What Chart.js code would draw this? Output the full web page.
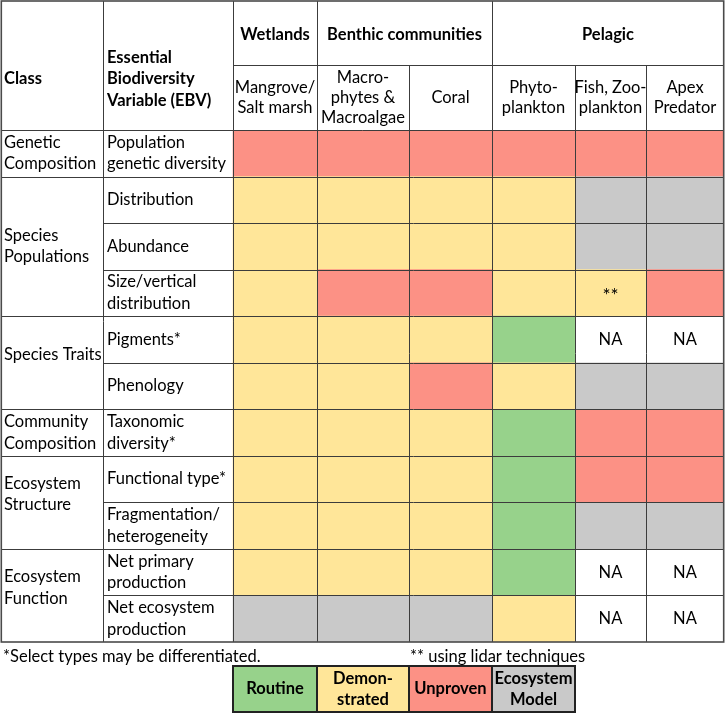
<!DOCTYPE html>
<html>
<head>
<meta charset="utf-8">
<script src="https://cdn.jsdelivr.net/npm/chart.js@4.4.1/dist/chart.umd.min.js"></script>
<style>
  html, body { margin: 0; padding: 0; background: #fff; }
  #wrap { width: 726px; height: 714px; }
</style>
</head>
<body>
<div id="wrap"><canvas id="ebvChart"></canvas></div>
<script>
// ---- table content ----
const ebvLabels = [
  'Population genetic diversity', 'Distribution', 'Abundance', 'Size/vertical distribution',
  'Pigments*', 'Phenology', 'Taxonomic diversity*', 'Functional type*',
  'Fragmentation/ heterogeneity', 'Net primary production', 'Net ecosystem production'
];
// same labels, wrapped the way the table shows them
const ebvLines = [
  ['Population', 'genetic diversity'], ['Distribution'], ['Abundance'], ['Size/vertical', 'distribution'],
  ['Pigments*'], ['Phenology'], ['Taxonomic', 'diversity*'], ['Functional type*'],
  ['Fragmentation/', 'heterogeneity'], ['Net primary', 'production'], ['Net ecosystem', 'production']
];
const classNames = [
  ['Genetic', 'Composition'], ['Species', 'Populations'], ['Species Traits'],
  ['Community', 'Composition'], ['Ecosystem', 'Structure'], ['Ecosystem', 'Function']
];
const classRows = [[0, 0], [1, 3], [4, 5], [6, 6], [7, 8], [9, 10]];

const habitatGroups = ['Wetlands', 'Benthic communities', 'Pelagic'];
const groupColumns = [[0, 0], [1, 2], [3, 5]];
const habitats = [
  ['Mangrove/', 'Salt marsh'], ['Macro-', 'phytes &', 'Macroalgae'], ['Coral'],
  ['Phyto-', 'plankton'], ['Fish, Zoo-', 'plankton'], ['Apex', 'Predator']
];

// readiness per habitat, one code per EBV row
// R = routine, D = demonstrated, U = unproven, M = ecosystem model, NA = not applicable
const mangrove    = ['U', 'D', 'D', 'D', 'D', 'D', 'D', 'D', 'D', 'D', 'M'];
const macrophytes = ['U', 'D', 'D', 'U', 'D', 'D', 'D', 'D', 'D', 'D', 'M'];
const coral       = ['U', 'D', 'D', 'U', 'D', 'U', 'D', 'D', 'D', 'D', 'M'];
const phyto       = ['U', 'D', 'D', 'D', 'R', 'D', 'R', 'R', 'R', 'R', 'D'];
const fishZoo     = ['U', 'M', 'M', 'D', 'NA', 'M', 'U', 'U', 'M', 'NA', 'NA'];
const apex        = ['U', 'M', 'M', 'U', 'NA', 'M', 'U', 'U', 'M', 'NA', 'NA'];
const fishZooNotes = ['', '', '', '**', '', '', '', '', '', '', ''];

const legendCodes = ['R', 'D', 'U', 'M'];
const legendLabels = [['Routine'], ['Demon-', 'strated'], ['Unproven'], ['Ecosystem', 'Model']];
const footnotes = ['*Select types may be differentiated.', '** using lidar techniques'];

// ---- layout / style ----
const colEdges = [0, 102, 232, 316, 408, 491, 574, 645, 723]; // x axis units
const statusColors = { R: '#97d28b', D: '#ffe699', U: '#fc9185', M: '#c9c9c9', NA: 'rgba(255,255,255,0)' };
const FONT = 'Lato, "Open Sans", sans-serif';
const SIZE = '16.5px ';
const gridColor = '#3c3c3c';

const columns = [mangrove, macrophytes, coral, phyto, fishZoo, apex];
const notes = [[], [], [], [], fishZooNotes, []];

const datasets = columns.map((codes, c) => ({
  label: habitats[c].join(' '),
  data: codes.map(() => [colEdges[c + 2], colEdges[c + 3]]),
  backgroundColor: codes.map(k => statusColors[k]),
  borderWidth: 0,
  barPercentage: 1,
  categoryPercentage: 1,
  grouped: false
}));

function textLines(ctx, lines, x, yMid, step) {
  const start = yMid - (lines.length - 1) * step / 2;
  lines.forEach((s, i) => ctx.fillText(s, x, start + i * step));
}

const tablePlugin = {
  id: 'tableGrid',
  afterDraw(chart) {
    const { ctx, chartArea, scales: { x, y } } = chart;
    const X = v => x.getPixelForValue(v);
    const rowTop = i => y.getPixelForValue(i - 0.5);
    const rowMid = i => y.getPixelForValue(i);
    const n = ebvLabels.length;
    const top = 1, groupBottom = 65;
    const headBottom = chartArea.top, bottom = chartArea.bottom;
    const crisp = v => Math.round(v) + 0.5;

    ctx.save();
    // grid lines
    ctx.strokeStyle = gridColor;
    ctx.lineWidth = 1;
    const hLine = (x0, x1, yy) => { ctx.beginPath(); ctx.moveTo(X(x0), crisp(yy)); ctx.lineTo(X(x1), crisp(yy)); ctx.stroke(); };
    const vLine = (xv, y0, y1) => { ctx.beginPath(); ctx.moveTo(crisp(X(xv)), y0); ctx.lineTo(crisp(X(xv)), y1); ctx.stroke(); };

    hLine(colEdges[2], colEdges[8], groupBottom);
    hLine(colEdges[0], colEdges[8], headBottom);
    for (let i = 1; i < n; i++) hLine(colEdges[1], colEdges[8], rowTop(i));
    classRows.forEach(([a]) => { if (a > 0) hLine(colEdges[0], colEdges[1], rowTop(a)); });

    [1, 2].forEach(k => vLine(colEdges[k], top, bottom));
    groupColumns.forEach(([a]) => vLine(colEdges[a + 2], top, bottom));
    for (let k = 3; k < 8; k++) vLine(colEdges[k], groupBottom, bottom);

    // outer border
    ctx.lineWidth = 1.6;
    ctx.strokeStyle = '#4a4a4a';
    ctx.strokeRect(X(colEdges[0]) + 0.3, top, X(colEdges[8]) - X(colEdges[0]) - 0.6, bottom - top);

    // header text
    ctx.fillStyle = '#000';
    ctx.textBaseline = 'middle';
    ctx.font = 'bold ' + SIZE + FONT;
    ctx.textAlign = 'left';
    ctx.fillText('Class', X(colEdges[0]) + 3, 79);
    textLines(ctx, ['Essential', 'Biodiversity', 'Variable (EBV)'], X(colEdges[1]) + 4, 79, 21.5);
    ctx.textAlign = 'center';
    habitatGroups.forEach((g, k) => {
      const [a, b] = groupColumns[k];
      ctx.fillText(g, (X(colEdges[a + 2]) + X(colEdges[b + 3])) / 2, 35);
    });
    ctx.font = SIZE + FONT;
    habitats.forEach((h, c) => {
      textLines(ctx, h, (X(colEdges[c + 2]) + X(colEdges[c + 3])) / 2, (groupBottom + headBottom) / 2, 20);
    });

    // class and EBV labels
    ctx.textAlign = 'left';
    classRows.forEach(([a, b], k) => {
      const mid = (rowTop(a) + (b + 1 < n ? rowTop(b + 1) : bottom)) / 2;
      const lift = k >= 2 && k !== 3 ? 8 : 0;
      textLines(ctx, classNames[k], X(colEdges[0]) + 3, mid - lift, 21.5);
    });
    ebvLines.forEach((lines, i) => textLines(ctx, lines, X(colEdges[1]) + 4, rowMid(i), 21.5));

    // NA / notes inside cells
    ctx.textAlign = 'center';
    columns.forEach((codes, c) => {
      const cx = (X(colEdges[c + 2]) + X(colEdges[c + 3])) / 2;
      codes.forEach((k, i) => {
        if (k === 'NA') {
          ctx.font = SIZE + FONT;
          ctx.fillText('NA', cx, rowMid(i));
        } else if (notes[c][i]) {
          ctx.font = '19px ' + FONT;
          ctx.fillText(notes[c][i], cx, rowMid(i) + 3);
        }
      });
    });

    // footnotes
    ctx.font = SIZE + FONT;
    ctx.textAlign = 'left';
    ctx.fillText(footnotes[0], X(colEdges[0]) + 2, bottom + 15);
    ctx.fillText(footnotes[1], X(colEdges[5]) - 82, bottom + 15);

    // legend boxes under the first four habitat columns
    const lTop = bottom + 24, lBottom = bottom + 70;
    legendCodes.forEach((k, j) => {
      const x0 = X(colEdges[j + 2]), x1 = X(colEdges[j + 3]);
      ctx.fillStyle = statusColors[k];
      ctx.fillRect(x0, lTop, x1 - x0, lBottom - lTop);
    });
    ctx.strokeStyle = '#222';
    ctx.lineWidth = 2;
    legendCodes.forEach((k, j) => {
      const x0 = X(colEdges[j + 2]), x1 = X(colEdges[j + 3]);
      ctx.strokeRect(x0, lTop, x1 - x0, lBottom - lTop);
    });
    ctx.fillStyle = '#000';
    ctx.font = 'bold ' + SIZE + FONT;
    ctx.textAlign = 'center';
    legendLabels.forEach((lines, j) => {
      textLines(ctx, lines, (X(colEdges[j + 2]) + X(colEdges[j + 3])) / 2, (lTop + lBottom) / 2, 21);
    });
    ctx.restore();
  }
};

new Chart(document.getElementById('ebvChart'), {
  type: 'bar',
  data: { labels: ebvLabels, datasets: datasets },
  options: {
    indexAxis: 'y',
    responsive: true,
    maintainAspectRatio: false,
    animation: false,
    events: [],
    layout: { padding: { top: 130, bottom: 72, left: 1, right: 2 } },
    scales: {
      x: { type: 'linear', min: colEdges[0], max: colEdges[8], display: false },
      y: { type: 'category', offset: true, display: false }
    },
    plugins: {
      legend: { display: false },
      tooltip: { enabled: false }
    }
  },
  plugins: [tablePlugin]
});
</script>
</body>
</html>
